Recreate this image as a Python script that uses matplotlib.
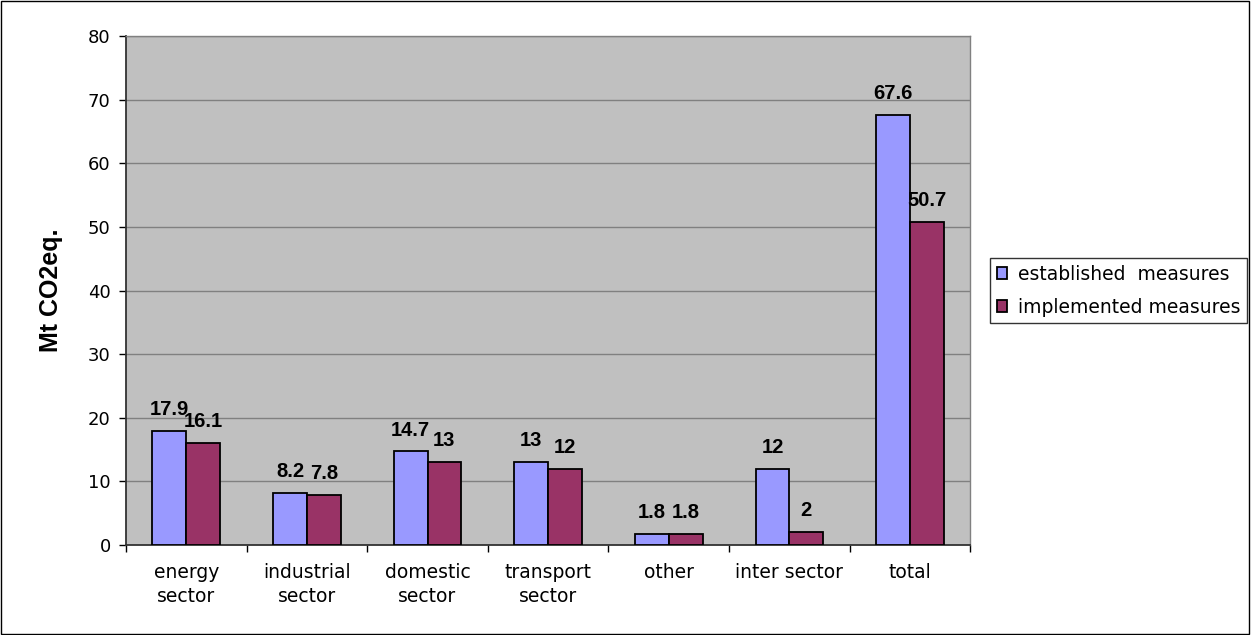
import matplotlib
matplotlib.use("Agg")
import matplotlib.pyplot as plt
import numpy as np
from matplotlib.patches import Rectangle

categories = ["energy\nsector", "industrial\nsector", "domestic\nsector", "transport\nsector",
              "other", "inter sector", "total"]
established = [17.9, 8.2, 14.7, 13, 1.8, 12, 67.6]
implemented = [16.1, 7.8, 13, 12, 1.8, 2, 50.7]
series_names = ["established  measures", "implemented measures"]
yticks = [0, 10, 20, 30, 40, 50, 60, 70, 80]

plt.rcParams['font.family'] = ['DejaVu Sans']

fig = plt.figure(figsize=(12.52, 6.35), dpi=100)
ax = fig.add_axes([0.1006, 0.1417, 0.6744, 0.8016])
ax.set_facecolor('#C0C0C0')

x = np.arange(len(categories))
w = 0.28
b1 = ax.bar(x - w/2, established, w, color='#9999FF', edgecolor='black', linewidth=1.3,
            label=series_names[0], zorder=3)
b2 = ax.bar(x + w/2, implemented, w, color='#993366', edgecolor='black', linewidth=1.3,
            label=series_names[1], zorder=3)

for bars, vals in ((b1, established), (b2, implemented)):
    for r, v in zip(bars, vals):
        ax.annotate(f"{v:g}", (r.get_x() + r.get_width()/2, v), xytext=(0, 11.5),
                    textcoords='offset points', ha='center', va='baseline',
                    fontsize=14.5, fontweight='bold', family='Liberation Sans', zorder=4)

ax.set_xlim(-0.5, len(categories) - 0.5)
ax.set_ylim(0, 80)
ax.set_yticks(yticks)
ax.yaxis.grid(True, color='#808080', linewidth=1, zorder=1)
ax.set_axisbelow(True)
ax.tick_params(axis='y', labelsize=13, length=5, width=1, direction='out', pad=6)
ax.set_xticks(np.arange(-0.5, len(categories)), minor=False)
ax.set_xticklabels([])
ax.set_xticks(x, minor=True)
ax.set_xticklabels(categories, minor=True, fontsize=13.5, linespacing=1.3)
ax.tick_params(axis='x', which='major', length=5, width=1, direction='out')
ax.tick_params(axis='x', which='minor', length=0, pad=13)
for s in ['left', 'bottom']:
    ax.spines[s].set_color('#333333')
    ax.spines[s].set_linewidth(1.3)
for s in ['right', 'top']:
    ax.spines[s].set_color('#808080')
    ax.spines[s].set_linewidth(1)

ax.set_ylabel("Mt CO2eq.", fontsize=18, fontweight='bold', family='Liberation Sans',
              labelpad=18)

leg = fig.legend(handles=[b1, b2], labels=series_names, loc='upper left',
                 bbox_to_anchor=(990/1252, 1 - 258/635), fontsize=13.5, frameon=True,
                 fancybox=False, edgecolor='black', handlelength=0.55, handleheight=0.55,
                 handletextpad=0.6, borderpad=0.35, borderaxespad=0, labelspacing=0.75)
leg.get_frame().set_linewidth(1)

fig.patches.append(Rectangle((0.001, 0.002), 0.997, 0.996, transform=fig.transFigure,
                             fill=False, edgecolor='black', linewidth=1))

fig.savefig("out.png", dpi=100)
